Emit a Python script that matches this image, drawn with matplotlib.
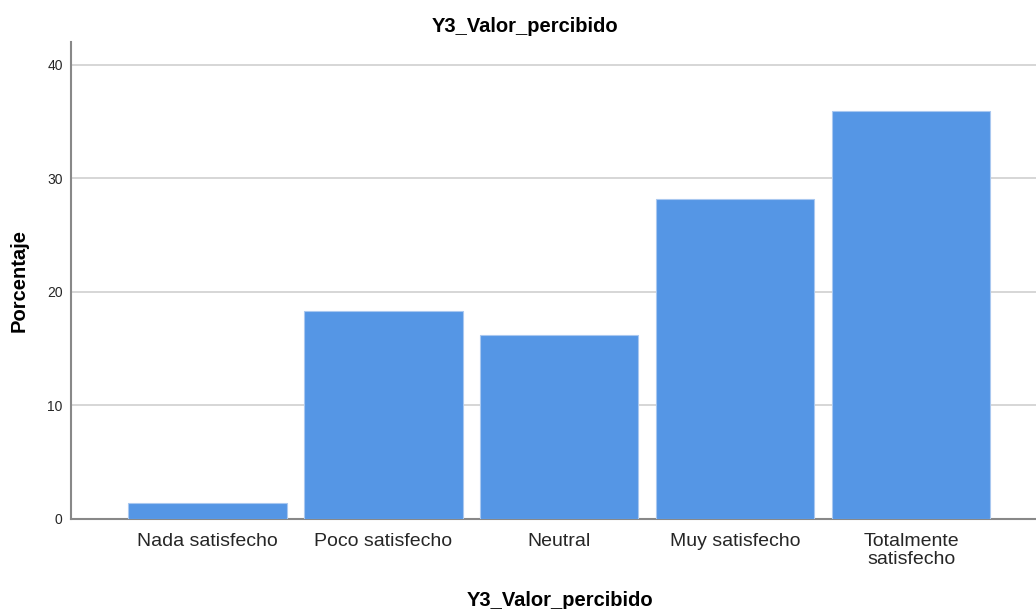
import matplotlib
matplotlib.use("Agg")
from matplotlib import pyplot as plt

# Data
categories = ["Nada satisfecho", "Poco satisfecho", "Neutral", "Muy satisfecho", "Totalmente\nsatisfecho"]
percentages = [1.4, 18.3, 16.2, 28.2, 35.9]
y_ticks = [0, 10, 20, 30, 40]

plt.rcParams["font.family"] = ["Liberation Sans", "DejaVu Sans"]

fig = plt.figure(figsize=(10.36, 6.09), dpi=100)
ax = fig.add_axes([71 / 1036, 90 / 609, 1 - 71 / 1036, 477 / 609])

x = list(range(len(categories)))
ax.bar(x, percentages, width=0.9, color="#5596e5", edgecolor="#a9c8f0", linewidth=0.8, zorder=3)

ax.set_xlim(-0.776, 4.71)
ax.set_ylim(0, 42)
ax.set_yticks(y_ticks)
ax.set_yticklabels([str(t) for t in y_ticks], fontsize=10)
ax.set_xticks(x)
ax.set_xticklabels(categories, fontsize=14, linespacing=1.12)
ax.tick_params(axis="both", length=0, colors="#262626")
ax.tick_params(axis="x", pad=10)
ax.tick_params(axis="y", pad=6)

ax.yaxis.grid(True, color="#cfcfcf", linewidth=1.2, zorder=0)
for side in ["top", "right"]:
    ax.spines[side].set_visible(False)
for side in ["left", "bottom"]:
    ax.spines[side].set_color("#888888")
    ax.spines[side].set_linewidth(1.5)

fig.text(525 / 1036, 1 - 26 / 609, "Y3_Valor_percibido", fontsize=14.5, fontweight="bold",
         ha="center", va="center")
fig.text(560 / 1036, 1 - 600 / 609, "Y3_Valor_percibido", fontsize=14.5, fontweight="bold",
         ha="center", va="center")
ax.set_ylabel("Porcentaje", fontsize=14.5, fontweight="bold", labelpad=13)

fig.savefig("out.png", dpi=100)
